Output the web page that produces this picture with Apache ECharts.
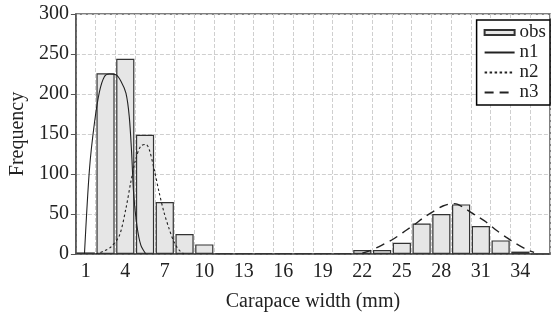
<!DOCTYPE html>
<html>
<head>
<meta charset="utf-8">
<script src="https://cdn.jsdelivr.net/npm/echarts@6/dist/echarts.min.js"></script>
<style>
  html, body { margin: 0; padding: 0; background: #fff; }
  #main { width: 556px; height: 317px; }
</style>
</head>
<body>
<div id="main"></div>
<script>
// bins of 1.5 mm, labelled by their centre
const binCenters = ['1', '2.5', '4', '5.5', '7', '8.5', '10', '11.5', '13', '14.5', '16', '17.5',
  '19', '20.5', '22', '23.5', '25', '26.5', '28', '29.5', '31', '32.5', '34', '35.5'];
const obsCounts = [2, 226, 244, 149, 65, 25, 12, 1, 1, 1, 1, 1,
  1, 1, 5, 5, 14, 38, 50, 62, 35, 17, 3, 0];

// fitted curves as [width (mm), frequency]
const n1Points = [[0.9, 0], [1.28, 106], [1.66, 164], [2.04, 203], [2.42, 222], [2.79, 225],
  [3.29, 224], [3.67, 216], [4.05, 201], [4.3, 172], [4.48, 127], [4.63, 77], [4.88, 36],
  [5.18, 11], [5.56, 0]];
const n2Points = [[1.75, 0], [2.42, 4], [2.92, 9], [3.55, 23], [4.05, 57], [4.42, 90],
  [4.8, 119], [5.18, 135], [5.56, 137], [5.81, 131], [6.19, 106], [6.57, 77], [6.94, 52],
  [7.32, 32], [7.7, 15], [8.08, 5], [8.45, 0]];
const n3Points = [[22.0, 1], [22.72, 5], [23.59, 12], [24.48, 20], [25.36, 30], [25.98, 37],
  [26.61, 45], [27.37, 53], [28.12, 60], [28.88, 63], [29.25, 62], [29.89, 56], [30.64, 48],
  [31.4, 40], [32.15, 30], [32.91, 21], [33.66, 13], [34.42, 6], [35.04, 2]];

const yTicks = { min: 0, max: 300, step: 50 };

var font = 'Liberation Serif';
var ink = '#222';
var axisGrey = '#555';
// legend entries for the curves: no marker, just the line
var noDot = { color: 'rgba(0,0,0,0)', borderWidth: 0, opacity: 0 };

var myChart = echarts.init(document.getElementById('main'));
var option = {
  animation: false,
  textStyle: { fontFamily: font, color: ink },
  grid: {
    left: 74,
    right: 6,
    top: 14,
    bottom: 62,
    show: true,
    borderColor: axisGrey,
    borderWidth: 1.5
  },
  legend: {
    orient: 'vertical',
    right: 6,
    top: 20,
    itemWidth: 30,
    itemHeight: 5,
    itemGap: 1,
    padding: [3, 4, 3, 7],
    borderColor: '#000',
    borderWidth: 1.5,
    backgroundColor: '#fff',
    textStyle: { fontFamily: font, fontSize: 19, color: ink },
    data: [
      { name: 'obs', icon: 'rect' },
      { name: 'n1', itemStyle: noDot },
      { name: 'n2', itemStyle: noDot },
      { name: 'n3', itemStyle: noDot }
    ]
  },
  xAxis: [
    {
      type: 'category',
      data: binCenters,
      boundaryGap: true,
      name: 'Carapace width (mm)',
      nameLocation: 'middle',
      nameGap: 38,
      nameTextStyle: { fontFamily: font, fontSize: 20, color: ink },
      axisLine: { lineStyle: { color: axisGrey, width: 1.5 } },
      axisTick: { interval: 0, length: 4, lineStyle: { color: axisGrey } },
      axisLabel: { interval: 1, margin: 8, fontFamily: font, fontSize: 20, color: ink },
      splitLine: { show: true, interval: 0, lineStyle: { color: '#cfcfcf', type: 'dashed' } }
    },
    {
      // hidden value axis used to place the curves in mm
      type: 'value',
      show: false,
      min: 0.25,
      max: 36.25
    }
  ],
  yAxis: {
    type: 'value',
    min: yTicks.min,
    max: yTicks.max,
    interval: yTicks.step,
    name: 'Frequency',
    nameLocation: 'middle',
    nameGap: 42,
    nameTextStyle: { fontFamily: font, fontSize: 20, color: ink },
    axisLine: { show: true, lineStyle: { color: axisGrey, width: 1.5 } },
    axisTick: { show: true, length: 5, lineStyle: { color: axisGrey } },
    axisLabel: { margin: 7, fontFamily: font, fontSize: 20, color: ink },
    splitLine: { lineStyle: { color: '#cfcfcf', type: 'dashed' } }
  },
  series: [
    {
      name: 'obs',
      type: 'bar',
      xAxisIndex: 0,
      barCategoryGap: '8%',
      itemStyle: { color: '#e6e6e6', borderColor: '#333', borderWidth: 1.2 },
      data: obsCounts
    },
    {
      name: 'n1',
      type: 'line',
      xAxisIndex: 1,
      symbol: 'none',
      smooth: 0.3,
      lineStyle: { color: ink, width: 1.1, type: 'solid' },
      itemStyle: { color: ink },
      data: n1Points
    },
    {
      name: 'n2',
      type: 'line',
      xAxisIndex: 1,
      symbol: 'none',
      smooth: 0.3,
      lineStyle: { color: ink, width: 1.1, type: [2.5, 2.5] },
      itemStyle: { color: ink },
      data: n2Points
    },
    {
      name: 'n3',
      type: 'line',
      xAxisIndex: 1,
      symbol: 'none',
      smooth: 0.3,
      lineStyle: { color: ink, width: 1.4, type: [9, 6] },
      itemStyle: { color: ink },
      data: n3Points
    }
  ]
};
myChart.setOption(option);
window.addEventListener('resize', function () {
  myChart.resize();
});
</script>
</body>
</html>
